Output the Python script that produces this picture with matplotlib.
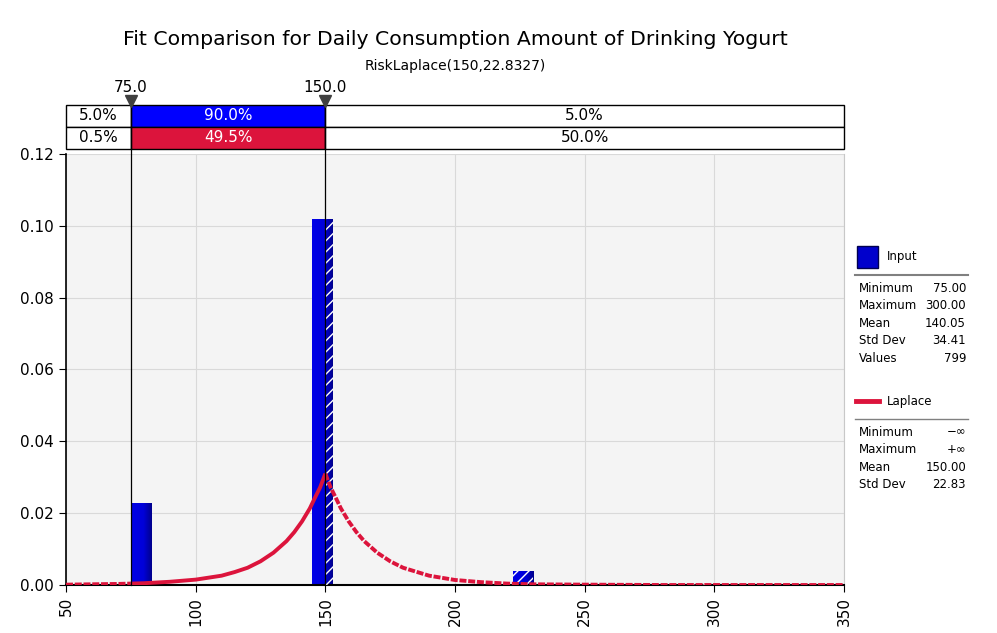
import numpy as np
import matplotlib
matplotlib.use("Agg")
from matplotlib import pyplot as plt
from matplotlib.patches import Rectangle
from matplotlib.colors import LinearSegmentedColormap
import matplotlib.transforms as mtransforms

# histogram of the input data (bin edges, density)
bin_left = [75.2, 145.0, 222.3, 291.8]
bin_right = [83.0, 152.8, 230.2, 298.4]
density = [0.0227, 0.1019, 0.0038, 0.0004]

# fitted Laplace curve
fit_x = [50, 60, 70, 75, 80, 90, 100, 110, 115, 120, 125, 130, 135, 138, 141,
         144, 146, 148, 150, 152, 154, 156, 159, 162, 165, 170, 175, 180,
         190, 200, 210, 220, 230, 250, 280, 320, 350]
fit_y = [0.0001, 0.0002, 0.0003, 0.0004, 0.0005, 0.0009, 0.0015, 0.0026, 0.0036, 0.0048,
         0.0066, 0.0090, 0.0122, 0.0147, 0.0177, 0.0213, 0.0243, 0.0272, 0.0310,
         0.0272, 0.0243, 0.0213, 0.0177, 0.0147, 0.0122, 0.0090, 0.0066, 0.0048,
         0.0026, 0.0014, 0.0008, 0.0004, 0.0002, 0.0001, 0.0, 0.0, 0.0]

delims = [75.0, 150.0]
input_pct = ["5.0%", "90.0%", "5.0%"]
fit_pct = ["0.5%", "49.5%", "50.0%"]

input_stats = [("Minimum", "75.00"), ("Maximum", "300.00"), ("Mean", "140.05"),
               ("Std Dev", "34.41"), ("Values", "799")]
fit_stats = [("Minimum", "\u2212\u221e"), ("Maximum", "+\u221e"), ("Mean", "150.00"),
             ("Std Dev", "22.83")]

BLUE = "#0000ff"
RED = "#dc143c"

plt.rcParams['font.family'] = ['DejaVu Sans']

fig = plt.figure(figsize=(9.97, 6.33), dpi=100)
ax = fig.add_axes([0.0662, 0.0758, 0.7804, 0.6813])
ax.set_facecolor('#f4f4f4')
ax.set_xticks([50, 100, 150, 200, 250, 300, 350])
ax.set_yticks(np.arange(0, 0.121, 0.02))
ax.yaxis.set_major_formatter(matplotlib.ticker.FormatStrFormatter('%.2f'))
ax.tick_params(axis='x', labelrotation=90, labelsize=11, length=5)
ax.tick_params(axis='y', labelsize=11, length=5)
ax.grid(True, color='#d9d9d9', lw=0.8)
ax.set_axisbelow(True)
ax.spines['top'].set_visible(False)
ax.spines['right'].set_color('#c8c8c8')
ax.spines['left'].set_linewidth(1.2)
ax.spines['bottom'].set_linewidth(1.5)

# bars with a slight horizontal gradient
cmap = LinearSegmentedColormap.from_list('bar', [(0, '#0000e8'), (0.6, '#0000d8'), (1, '#00008c')])
grad = np.linspace(0, 1, 64).reshape(1, -1)
for lo, hi, h in zip(bin_left, bin_right, density):
    rect = Rectangle((lo, 0), hi - lo, h, facecolor='none', edgecolor='none', zorder=2)
    ax.add_patch(rect)
    im = ax.imshow(grad, cmap=cmap, extent=[lo, hi, 0, h], aspect='auto', zorder=2)
    im.set_clip_path(rect)
    # part outside the delimiters is hatched
    if hi > delims[1]:
        s = max(lo, delims[1])
        ax.add_patch(Rectangle((s, 0), hi - s, h, facecolor='none', edgecolor='white',
                               hatch='///', lw=0, zorder=3))
ax.set_xlim(50, 350)
ax.set_ylim(0, 0.12)

# fitted curve: solid inside the delimiters, dashed outside
fx = np.array(fit_x)
fy = np.array(fit_y)
inside = (fx >= delims[0]) & (fx <= delims[1])
ax.plot(fx[inside], fy[inside], color=RED, lw=2.8, zorder=4, solid_capstyle='butt')
left = fx <= delims[0]
right = fx >= delims[1]
for m in (left, right):
    ax.plot(fx[m], fy[m], color=RED, lw=2.8, zorder=4, linestyle=(0, (1.8, 0.45)))

# delimiter lines, table and markers above the plot
tr = mtransforms.blended_transform_factory(ax.transData, ax.transAxes)
r2_lo, r2_hi, r1_hi = 1.0116, 1.0625, 1.1134
for d in delims:
    ax.plot([d, d], [0, r1_hi], color='black', lw=0.9, transform=tr, clip_on=False, zorder=5)
    ax.plot([d], [r1_hi + 0.01], marker='v', ms=9, color='#404040', transform=tr,
            clip_on=False, zorder=6)
    ax.text(d, r1_hi + 0.022, f"{d:.1f}", transform=tr, ha='center', va='bottom', fontsize=11)

edges = [50, delims[0], delims[1], 350]
for row, (pcts, fill, y0, y1) in enumerate([(input_pct, BLUE, r2_hi, r1_hi),
                                             (fit_pct, RED, r2_lo, r2_hi)]):
    for i in range(3):
        fc = fill if i == 1 else 'white'
        ax.add_patch(Rectangle((edges[i], y0), edges[i + 1] - edges[i], y1 - y0,
                               transform=tr, facecolor=fc, edgecolor='black', lw=1,
                               clip_on=False, zorder=4))
        ax.text((edges[i] + edges[i + 1]) / 2, (y0 + y1) / 2, pcts[i], transform=tr,
                ha='center', va='center', fontsize=11,
                color='white' if i == 1 else 'black', zorder=7)

# titles
fig.text(0.457, 0.937, "Fit Comparison for Daily Consumption Amount of Drinking Yogurt",
         ha='center', va='center', fontsize=14.7)
fig.text(0.457, 0.895, "RiskLaplace(150,22.8327)", ha='center', va='center', fontsize=10)

# legend panel
def px(x, y):
    return x / 997, 1 - y / 633

fig.patches.append(Rectangle(px(857, 268), 21 / 997, 22 / 633, transform=fig.transFigure,
                             facecolor='#0000cc', edgecolor='#000050', lw=1))
fig.text(*px(887, 257), "Input", va='center', fontsize=8.5)
fig.lines.append(plt.Line2D([855 / 997, 968 / 997], [1 - 275 / 633] * 2,
                            transform=fig.transFigure, color='#808080', lw=1.5))
for k, (name, val) in enumerate(input_stats):
    y = 288 + k * 17.6
    fig.text(*px(859, y), name, va='center', fontsize=8.5)
    fig.text(*px(966, y), val, va='center', ha='right', fontsize=8.5)

fig.lines.append(plt.Line2D([856 / 997, 879 / 997], [1 - 401 / 633] * 2,
                            transform=fig.transFigure, color=RED, lw=3.5))
fig.text(*px(887, 401), "Laplace", va='center', fontsize=8.5)
fig.lines.append(plt.Line2D([855 / 997, 968 / 997], [1 - 419 / 633] * 2,
                            transform=fig.transFigure, color='#808080', lw=1))
for k, (name, val) in enumerate(fit_stats):
    y = 432 + k * 17.6
    fig.text(*px(859, y), name, va='center', fontsize=8.5)
    fig.text(*px(966, y), val, va='center', ha='right', fontsize=8.5)

fig.savefig("out.png", dpi=100)
